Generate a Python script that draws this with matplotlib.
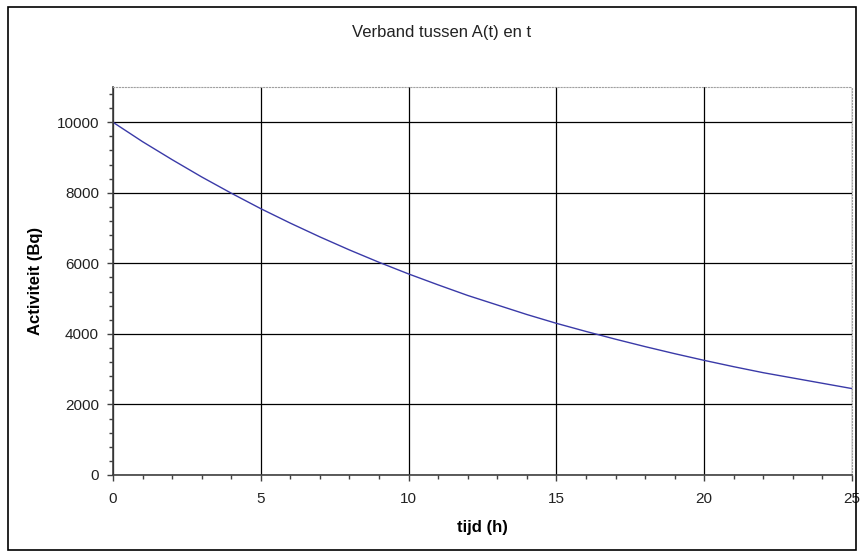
import matplotlib
matplotlib.use("Agg")
import matplotlib.pyplot as plt
from matplotlib.patches import Rectangle
from matplotlib.ticker import MultipleLocator

# tijd in uren en activiteit in Bq
tijd = list(range(0, 26))
activiteit = [10000, 9450, 8940, 8450, 7990, 7550, 7140, 6750, 6380, 6030,
              5700, 5390, 5090, 4820, 4550, 4300, 4070, 3850, 3640, 3440,
              3250, 3070, 2900, 2750, 2600, 2450]

title = "Verband tussen A(t) en t"
xlabel = "tijd (h)"
ylabel = "Activiteit (Bq)"

plt.rcParams['font.family'] = ['Liberation Sans', 'DejaVu Sans']

W, H = 862, 557
fig = plt.figure(figsize=(W / 100, H / 100), dpi=100)

# rand om de hele grafiek
fig.patches.append(Rectangle((8 / W, 1 - 550 / H), (856 - 8) / W, (550 - 7) / H,
                             transform=fig.transFigure, fill=False,
                             edgecolor='black', linewidth=1.2))

left, right, top, bottom = 113, 852, 87, 475
ax = fig.add_axes([left / W, 1 - bottom / H, (right - left) / W, (bottom - top) / H])

ax.plot(tijd, activiteit, color='#3a3aa8', linewidth=1.0)

ax.set_xlim(0, 25)
ax.set_ylim(0, 11000)
ax.xaxis.set_major_locator(MultipleLocator(5))
ax.xaxis.set_minor_locator(MultipleLocator(1))
ax.yaxis.set_major_locator(MultipleLocator(2000))
ax.yaxis.set_minor_locator(MultipleLocator(400))

ax.grid(True, which='major', color='black', linewidth=0.9)
ax.tick_params(which='both', direction='out', colors='#404040', labelcolor='#222222',
               labelsize=11)
ax.tick_params(which='major', length=4, width=1)
ax.tick_params(which='minor', length=3, width=1)
ax.tick_params(axis='x', pad=8)
ax.tick_params(axis='y', pad=6)

for s in ('left', 'bottom'):
    ax.spines[s].set_color('#404040')
    ax.spines[s].set_linewidth(1.2)
for s in ('top', 'right'):
    ax.spines[s].set_color('#a0a0a0')
    ax.spines[s].set_linestyle(':')
    ax.spines[s].set_linewidth(0.8)

fig.text(442 / W, 1 - 33 / H, title, ha='center', va='center', fontsize=12,
         color='#222222')
ax.set_xlabel(xlabel, fontsize=12, fontweight='bold', labelpad=10)
ax.set_ylabel(ylabel, fontsize=12, fontweight='bold', labelpad=10)

fig.savefig("out.png", dpi=100)
